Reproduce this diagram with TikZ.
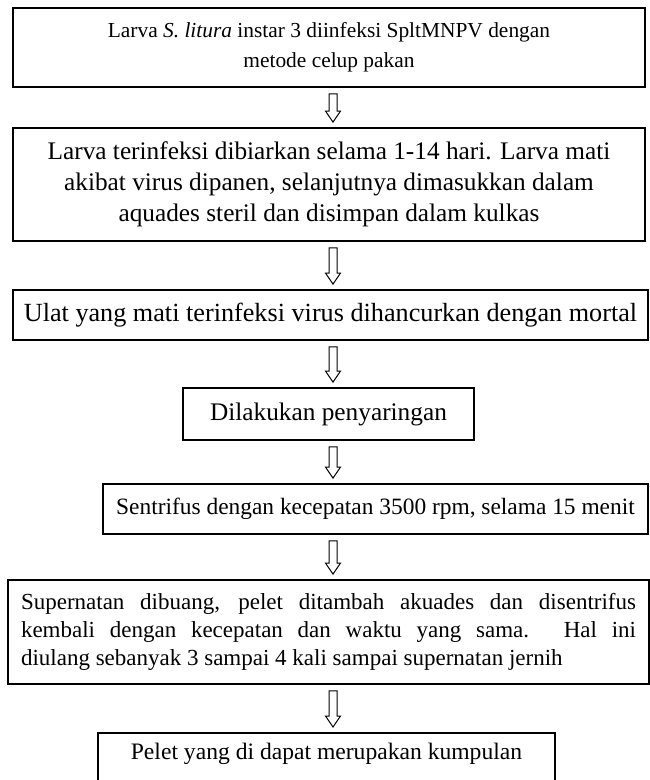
\documentclass[tikz,border=0pt]{standalone}
\usepackage{fontspec}
\setmainfont{Liberation Serif}
\usetikzlibrary{calc}
\tikzset{
  flowbox/.style={draw=black, line width=1.8pt, rectangle, inner sep=0pt, align=center,
    font=\fontsize{24}{30}\selectfont},
  blockarrow/.style={draw=black, line width=1pt, fill=white, line join=miter},
}
\newcommand\flowarrow[2]{%
  \draw[blockarrow]
    ($(#1.south -| ax)+(-4,6)$) -- ($(#1.south -| ax)+(4,6)$)
    -- ($(#2.north -| ax)+(4,-16)$) -- ($(#2.north -| ax)+(7.5,-16)$)
    -- ($(#2.north -| ax)+(0,-5)$)
    -- ($(#2.north -| ax)+(-7.5,-16)$) -- ($(#2.north -| ax)+(-4,-16)$) -- cycle;}
\begin{document}
\begin{tikzpicture}[x=1pt,y=-1pt]
\clip (0,0) rectangle (650,780);
\fill[white] (0,0) rectangle (650,780);
\coordinate (ax) at (333,0);

\node[flowbox, minimum width=632pt, minimum height=79pt, font=\fontsize{21.4}{30}\selectfont] (b1) at (329,47.5)
  {Larva \textit{S. litura} instar 3 diinfeksi SpltMNPV dengan\\metode celup pakan};

\node[flowbox, minimum width=632pt, minimum height=113pt, font=\fontsize{25.3}{31}\selectfont] (b2) at (329,184.5)
  {Larva terinfeksi dibiarkan selama 1-14 hari. Larva mati\\akibat virus dipanen, selanjutnya dimasukkan dalam\\aquades steril dan disimpan dalam kulkas};

\node[flowbox, minimum width=635pt, minimum height=50pt, font=\fontsize{26.2}{31}\selectfont] (b3) at (330.5,315)
  {Ulat yang mati terinfeksi virus dihancurkan dengan mortal};

\node[flowbox, minimum width=291pt, minimum height=52pt, font=\fontsize{25.3}{31}\selectfont] (b4) at (328.5,414)
  {Dilakukan penyaringan};

\node[flowbox, minimum width=545pt, minimum height=50pt, font=\fontsize{23.4}{30}\selectfont] (b5) at (375.5,509)
  {Sentrifus dengan kecepatan 3500 rpm, selama 15 menit};

\node[flowbox, minimum width=641pt, minimum height=104pt, text width=615pt, align=justify,
  font=\fontsize{23}{28}\selectfont] (b6) at (328.5,632)
  {\tolerance=9999 \hyphenpenalty=10000 Supernatan dibuang, pelet ditambah akuades dan disentrifus\linebreak kembali dengan kecepatan dan waktu yang sama. Hal ini\linebreak diulang sebanyak 3 sampai 4 kali sampai supernatan jernih};

\node[flowbox, anchor=north, minimum width=457pt, text height=18pt, text depth=80pt, inner ysep=9pt,
  font=\fontsize{23.6}{30}\selectfont] (b7) at (326.5,732)
  {Pelet yang di dapat merupakan kumpulan};

\flowarrow{b1}{b2}
\flowarrow{b2}{b3}
\flowarrow{b3}{b4}
\flowarrow{b4}{b5}
\flowarrow{b5}{b6}
\flowarrow{b6}{b7}
\end{tikzpicture}
\end{document}
